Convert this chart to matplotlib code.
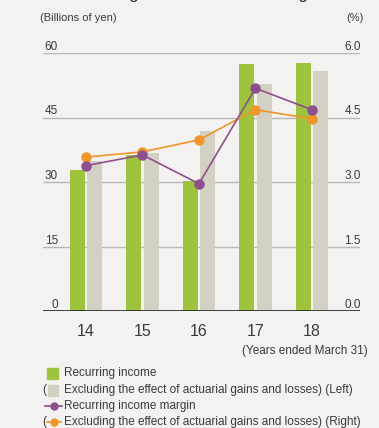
import numpy as np
import matplotlib
matplotlib.use("Agg")
import matplotlib.pyplot as plt
from matplotlib.patches import Rectangle
from matplotlib.lines import Line2D
from matplotlib.transforms import blended_transform_factory

plt.rcParams['font.family'] = ['Liberation Sans', 'DejaVu Sans']

# fiscal years (ended March 31)
years = ['14', '15', '16', '17', '18']
recurring_income = [32.8, 36.3, 30.3, 57.4, 57.7]          # billions of yen
recurring_income_excl = [34.9, 36.8, 41.9, 52.8, 55.8]     # excl. actuarial gains/losses
margin = [3.38, 3.63, 2.96, 5.18, 4.68]                    # %
margin_excl = [3.58, 3.70, 3.98, 4.68, 4.47]               # %

left_ticks = [0, 15, 30, 45, 60]
right_ticks = ['0.0', '1.5', '3.0', '4.5', '6.0']

bg = '#f3f2f0'
green = '#9dc43c'
grey = '#d3d1c4'
purple = '#8e4f8e'
orange = '#f0962a'
txt = '#3a3a3a'

W, H = 379, 428
fig = plt.figure(figsize=(W / 100, H / 100), dpi=100, facecolor=bg)


def fx(x):
    return x / W


def fy(y):
    return 1 - y / H


ax = fig.add_axes([fx(43), fy(311), fx(360) - fx(43), fy(53) - fy(311)])
ax.set_facecolor('none')
x = np.arange(len(years))
ax.set_xlim(-0.76, 4.85)
ax.set_ylim(0, 60)

for v in left_ticks[1:]:
    ax.axhline(v, color='#b8b8b8', lw=1.0, zorder=0)
ax.axhline(0, color='#222222', lw=1.2, zorder=3)

w = 0.265
ax.bar(x - 0.155, recurring_income, w, color=green, zorder=2)
ax.bar(x + 0.155, recurring_income_excl, w, color=grey, zorder=2)

for s in ax.spines.values():
    s.set_visible(False)
ax.set_yticks([])
ax.set_xticks(x)
ax.set_xticklabels(years, fontsize=11.5, color=txt)
ax.tick_params(axis='x', length=0, pad=9)

# axis value labels sit just above each gridline
tr = blended_transform_factory(fig.transFigure, ax.transData)
for v, r in zip(left_ticks, right_ticks):
    ax.text(fx(58), v, str(v), transform=tr, ha='right', va='bottom', fontsize=8.5, color=txt)
    ax.text(fx(361), v, r, transform=tr, ha='right', va='bottom', fontsize=8.5, color=txt)

ax2 = ax.twinx()
ax2.set_ylim(0, 6)
ax2.set_yticks([])
for s in ax2.spines.values():
    s.set_visible(False)
ax2.plot(x, margin_excl, color=orange, lw=1.2, marker='o', ms=6.5, zorder=4)
ax2.plot(x, margin, color=purple, lw=1.2, marker='o', ms=6.5, zorder=5)

# heading runs off the top edge; only its descenders show
title = 'Recurring Income and Recurring Income Margin'
renderer = fig.canvas.get_renderer()
probe = fig.text(0, 0, 'Recurrin', fontsize=12)
offset = probe.get_window_extent(renderer).width
probe.remove()
fig.text(fx(129 - offset), fy(-0.5), title, fontsize=12,
         color='#222222', ha='left', va='baseline')

fig.text(fx(40), fy(18), '(Billions of yen)', fontsize=8, color=txt, va='center')
fig.text(fx(364), fy(18), '(%)', fontsize=8, color=txt, va='center', ha='right')
fig.text(fx(368), fy(351), '(Years ended March 31)', fontsize=8.5, color=txt, ha='right', va='center')

# legend rows
rows = [373, 390, 406, 422]
labels = ['Recurring income',
          'Excluding the effect of actuarial gains and losses) (Left)',
          'Recurring income margin',
          'Excluding the effect of actuarial gains and losses) (Right)']
fig.add_artist(Rectangle((fx(47), fy(rows[0] + 5.5)), fx(11), fy(0) - fy(11),
                         transform=fig.transFigure, color=green))
fig.add_artist(Rectangle((fx(48), fy(rows[1] + 5.5)), fx(10), fy(0) - fy(11),
                         transform=fig.transFigure, color=grey))
fig.add_artist(Line2D([fx(45), fx(62)], [fy(rows[2])] * 2, transform=fig.transFigure,
                      color=purple, lw=1.2))
fig.add_artist(Line2D([fx(53.5)], [fy(rows[2])], transform=fig.transFigure,
                      color=purple, marker='o', ms=5, lw=0))
fig.add_artist(Line2D([fx(47), fx(61)], [fy(rows[3])] * 2, transform=fig.transFigure,
                      color=orange, lw=1.2))
fig.add_artist(Line2D([fx(54)], [fy(rows[3])], transform=fig.transFigure,
                      color=orange, marker='o', ms=5, lw=0))
fig.text(fx(42), fy(rows[1]), '(', fontsize=8.5, color=txt, va='center')
fig.text(fx(42), fy(rows[3]), '(', fontsize=8.5, color=txt, va='center')
for r, lab in zip(rows, labels):
    fig.text(fx(64), fy(r), lab, fontsize=8.5, color=txt, va='center')

fig.savefig('out.png', dpi=100, facecolor=bg)
